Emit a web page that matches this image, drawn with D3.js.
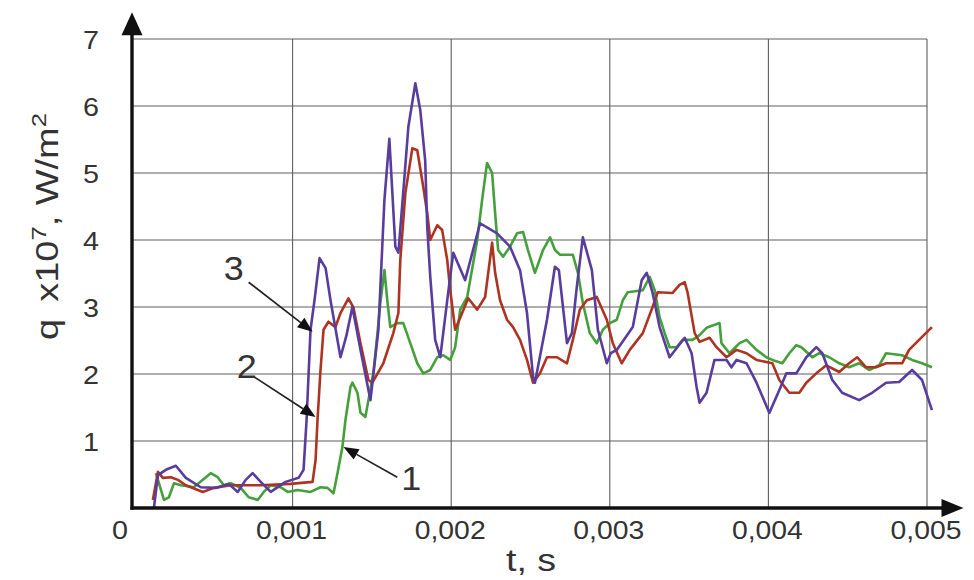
<!DOCTYPE html>
<html>
<head>
<meta charset="utf-8">
<script src="https://cdn.jsdelivr.net/npm/d3@7"></script>
<style>
  html, body { margin: 0; padding: 0; background: #fff; }
  svg { display: block; }
  text { font-family: "Liberation Sans", Arial, sans-serif; fill: #333; }
</style>
</head>
<body>
<svg id="chart" width="974" height="580"></svg>
<script>
// ---- data (t in ms, q in 1e7 W/m^2) ----
const series1T = [0.138,0.189,0.220,0.252,0.296,0.377,0.434,0.484,0.528,0.566,0.610,0.673,0.723,0.780,0.818,0.862,0.925,0.969,1.031,1.113,1.176,1.220,1.258,1.283,1.314,1.333,1.365,1.377,1.409,1.428,1.459,1.478,1.509,1.535,1.553,1.579,1.597,1.616,1.660,1.698,1.742,1.786,1.824,1.868,1.912,1.950,1.994,2.025,2.057,2.101,2.164,2.195,2.226,2.258,2.277,2.296,2.327,2.371,2.415,2.453,2.484,2.528,2.579,2.623,2.654,2.686,2.767,2.799,2.830,2.874,2.918,2.956,3.000,3.044,3.082,3.113,3.208,3.252,3.283,3.314,3.346,3.377,3.421,3.459,3.522,3.566,3.610,3.692,3.704,3.755,3.818,3.862,3.925,3.987,4.025,4.088,4.132,4.176,4.208,4.277,4.321,4.384,4.447,4.509,4.572,4.635,4.698,4.742,4.843,4.906,4.969,5.031];
const series1Q = [0.52,0.12,0.16,0.37,0.34,0.31,0.42,0.52,0.46,0.34,0.37,0.30,0.16,0.12,0.24,0.34,0.31,0.24,0.27,0.24,0.31,0.30,0.22,0.52,0.91,1.31,1.81,1.87,1.72,1.42,1.36,1.61,2.01,2.61,3.06,3.55,3.10,2.70,2.76,2.76,2.46,2.16,2.01,2.06,2.25,2.28,2.21,2.40,2.96,3.15,4.00,4.60,5.15,5.00,4.40,3.85,3.75,3.90,4.10,4.12,3.85,3.51,3.85,4.04,3.85,3.78,3.78,3.51,3.06,2.61,2.46,2.66,2.76,2.81,3.10,3.22,3.25,3.45,3.25,2.85,2.61,2.40,2.40,2.51,2.51,2.58,2.69,2.76,2.46,2.31,2.46,2.51,2.36,2.25,2.21,2.16,2.31,2.43,2.40,2.25,2.31,2.25,2.16,2.10,2.16,2.06,2.13,2.31,2.28,2.21,2.16,2.10];

const series2T = [0.119,0.151,0.182,0.233,0.277,0.327,0.434,0.503,0.610,0.799,0.987,1.126,1.145,1.157,1.176,1.195,1.226,1.270,1.302,1.352,1.384,1.428,1.478,1.503,1.572,1.635,1.667,1.679,1.711,1.755,1.786,1.824,1.849,1.868,1.912,1.943,1.975,1.994,2.025,2.069,2.107,2.164,2.214,2.258,2.277,2.308,2.352,2.390,2.434,2.478,2.516,2.560,2.604,2.667,2.730,2.767,2.811,2.855,2.918,2.981,3.019,3.075,3.126,3.208,3.270,3.302,3.396,3.440,3.472,3.491,3.535,3.566,3.629,3.673,3.736,3.799,3.862,3.925,4.025,4.069,4.132,4.195,4.239,4.302,4.365,4.447,4.509,4.560,4.616,4.679,4.742,4.843,4.887,4.950,5.031];
const series2Q = [0.12,0.54,0.45,0.46,0.42,0.34,0.24,0.30,0.34,0.34,0.36,0.39,0.72,1.31,2.06,2.66,2.78,2.70,2.91,3.13,2.99,2.46,1.91,1.87,2.16,2.61,2.91,3.70,4.70,5.37,5.34,4.79,4.40,4.00,4.22,4.15,3.70,3.25,2.66,2.91,3.13,2.96,3.15,3.96,3.51,3.10,2.81,2.70,2.51,2.21,1.87,2.01,2.25,2.25,2.16,2.51,2.96,3.10,3.15,2.81,2.46,2.16,2.36,2.61,3.00,3.22,3.21,3.33,3.37,3.21,2.61,2.48,2.54,2.40,2.25,2.36,2.31,2.21,2.16,1.91,1.72,1.72,1.87,2.01,2.13,2.03,2.16,2.25,2.10,2.10,2.16,2.16,2.36,2.51,2.70];

const series3T = [0.126,0.151,0.201,0.264,0.327,0.421,0.516,0.597,0.654,0.704,0.748,0.799,0.862,0.956,1.038,1.069,1.088,1.113,1.138,1.170,1.208,1.239,1.302,1.340,1.377,1.428,1.491,1.541,1.579,1.610,1.648,1.667,1.704,1.730,1.774,1.805,1.836,1.849,1.868,1.899,1.931,1.975,2.013,2.088,2.182,2.289,2.371,2.434,2.478,2.516,2.528,2.604,2.654,2.679,2.730,2.761,2.792,2.830,2.887,2.925,2.981,3.006,3.044,3.145,3.201,3.233,3.270,3.314,3.377,3.472,3.516,3.547,3.566,3.610,3.660,3.736,3.767,3.799,3.862,3.925,4.006,4.069,4.113,4.176,4.239,4.302,4.340,4.403,4.465,4.572,4.654,4.742,4.824,4.906,4.969,5.031];
const series3Q = [0.01,0.49,0.57,0.63,0.45,0.31,0.30,0.36,0.24,0.42,0.52,0.39,0.24,0.39,0.45,0.57,1.31,2.66,3.10,3.73,3.58,3.10,2.25,2.58,3.00,2.36,1.61,2.66,4.60,5.51,3.90,3.81,4.90,5.69,6.34,5.94,5.19,4.19,3.45,2.51,2.25,3.10,3.81,3.40,4.25,4.10,3.90,3.55,2.91,1.96,1.87,2.81,3.60,3.55,2.46,2.61,3.30,4.04,3.55,2.66,2.16,2.31,2.36,2.70,3.40,3.51,3.21,2.70,2.25,2.54,2.31,1.81,1.57,1.72,2.21,2.21,2.10,2.21,2.16,1.87,1.42,1.76,2.01,2.01,2.25,2.40,2.31,1.91,1.72,1.61,1.72,1.87,1.88,2.06,1.91,1.46];

const xTickValues = [0.001, 0.002, 0.003, 0.004, 0.005];
const xTickLabels = ["0,001", "0,002", "0,003", "0,004", "0,005"];
const yTickValues = [1, 2, 3, 4, 5, 6, 7];
const yTickLabels = ["1", "2", "3", "4", "5", "6", "7"];
const seriesNames = ["1", "2", "3"];
const seriesColors = ["#45a03b", "#ad3420", "#583d9e"];

// annotation arrows (t in ms)
const labelT = [1.748, 0.711, 0.629];
const labelQ = [0.27, 1.94, 3.40];
const arrowFromT = [1.66, 0.755, 0.723];
const arrowFromQ = [0.46, 1.96, 3.37];
const arrowToT = [1.321, 1.145, 1.126];
const arrowToQ = [0.91, 1.36, 2.63];

// ---- scales ----
const svg = d3.select("#chart");
const x = d3.scaleLinear().domain([0, 0.005]).range([134, 927]);
const y = d3.scaleLinear().domain([0, 7]).range([508, 39]);
const xAxisEnd = 0.00523;
const yAxisEnd = 7.4;

// ---- grid ----
const grid = svg.append("g").attr("stroke", "#5e5e5e").attr("stroke-width", 1.1);
grid.selectAll("line.h").data(yTickValues).join("line")
  .attr("x1", x(0) - 2).attr("x2", x(0.005))
  .attr("y1", d => y(d)).attr("y2", d => y(d));
grid.selectAll("line.v").data(xTickValues).join("line")
  .attr("x1", d => x(d)).attr("x2", d => x(d))
  .attr("y1", y(7)).attr("y2", y(0));

// ---- series ----
const allSeries = [
  series1T.map((t, i) => [t / 1000, series1Q[i]]),
  series2T.map((t, i) => [t / 1000, series2Q[i]]),
  series3T.map((t, i) => [t / 1000, series3Q[i]])
];
const line = d3.line().x(d => x(d[0])).y(d => y(d[1])).curve(d3.curveLinear);
svg.append("g").selectAll("path").data(allSeries).join("path")
  .attr("d", line)
  .attr("fill", "none")
  .attr("stroke", (d, i) => seriesColors[i])
  .attr("stroke-width", 2.6)
  .attr("stroke-linejoin", "round");

// ---- axes with arrows ----
const axisG = svg.append("g");
const x0 = x(0) - 2;
axisG.append("line").attr("x1", x0 - 1.5).attr("x2", x(xAxisEnd) - 18)
  .attr("y1", y(0)).attr("y2", y(0)).attr("stroke", "#111").attr("stroke-width", 3.4);
axisG.append("line").attr("x1", x0).attr("x2", x0)
  .attr("y1", y(0) + 1.7).attr("y2", y(yAxisEnd) + 18).attr("stroke", "#111").attr("stroke-width", 3.4);
axisG.append("path")
  .attr("d", `M${x(xAxisEnd)},${y(0)} L${x(xAxisEnd) - 22},${y(0) - 9} L${x(xAxisEnd) - 22},${y(0) + 9} Z`)
  .attr("fill", "#111");
axisG.append("path")
  .attr("d", `M${x0},${y(yAxisEnd)} L${x0 - 10.5},${y(yAxisEnd) + 23} L${x0 + 10.5},${y(yAxisEnd) + 23} Z`)
  .attr("fill", "#111");

// ---- tick labels ----
svg.append("g").selectAll("text").data(yTickValues).join("text")
  .attr("x", 91).attr("y", d => y(d) + 9.5)
  .attr("text-anchor", "middle").attr("font-size", 26)
  .attr("textLength", 16).attr("lengthAdjust", "spacingAndGlyphs")
  .text((d, i) => yTickLabels[i]);
svg.append("g").selectAll("text").data(xTickValues).join("text")
  .attr("x", d => x(d) - 1).attr("y", y(0) + 31)
  .attr("text-anchor", "middle").attr("font-size", 26)
  .attr("textLength", 71).attr("lengthAdjust", "spacingAndGlyphs")
  .text((d, i) => xTickLabels[i]);
svg.append("text").attr("x", 120).attr("y", y(0) + 31)
  .attr("text-anchor", "middle").attr("font-size", 26)
  .attr("textLength", 16).attr("lengthAdjust", "spacingAndGlyphs").text("0");

// ---- axis titles ----
const yt = svg.append("text")
  .attr("transform", `translate(58,340) rotate(-90)`)
  .attr("text-anchor", "start").attr("font-size", 31)
  .attr("textLength", 227).attr("lengthAdjust", "spacingAndGlyphs");
yt.append("tspan").text("q");
yt.append("tspan").attr("dx", 14).text("x10");
yt.append("tspan").attr("dy", -12).attr("font-size", 21).text("7");
yt.append("tspan").attr("dy", 12).text(", W/m");
yt.append("tspan").attr("dy", -12).attr("font-size", 21).text("2");

svg.append("text").attr("x", 531).attr("y", 571)
  .attr("text-anchor", "middle").attr("font-size", 32)
  .attr("textLength", 50).attr("lengthAdjust", "spacingAndGlyphs").text("t, s");

// ---- curve annotations ----
const ann = svg.append("g");
seriesNames.forEach((name, i) => {
  const fx = x(arrowFromT[i] / 1000), fy = y(arrowFromQ[i]);
  const tx = x(arrowToT[i] / 1000), ty = y(arrowToQ[i]);
  const ang = Math.atan2(ty - fy, tx - fx);
  const L = 15, W = 6;
  const bx = tx - L * Math.cos(ang), by = ty - L * Math.sin(ang);
  ann.append("line").attr("x1", fx).attr("y1", fy).attr("x2", bx).attr("y2", by)
    .attr("stroke", "#222").attr("stroke-width", 1.7);
  ann.append("path")
    .attr("d", `M${tx},${ty} L${bx + W * Math.sin(ang)},${by - W * Math.cos(ang)} L${bx - W * Math.sin(ang)},${by + W * Math.cos(ang)} Z`)
    .attr("fill", "#111");
  ann.append("text").attr("x", x(labelT[i] / 1000)).attr("y", y(labelQ[i]))
    .attr("text-anchor", "middle").attr("font-size", 34)
    .attr("textLength", 20).attr("lengthAdjust", "spacingAndGlyphs").text(name);
});
</script>
</body>
</html>
